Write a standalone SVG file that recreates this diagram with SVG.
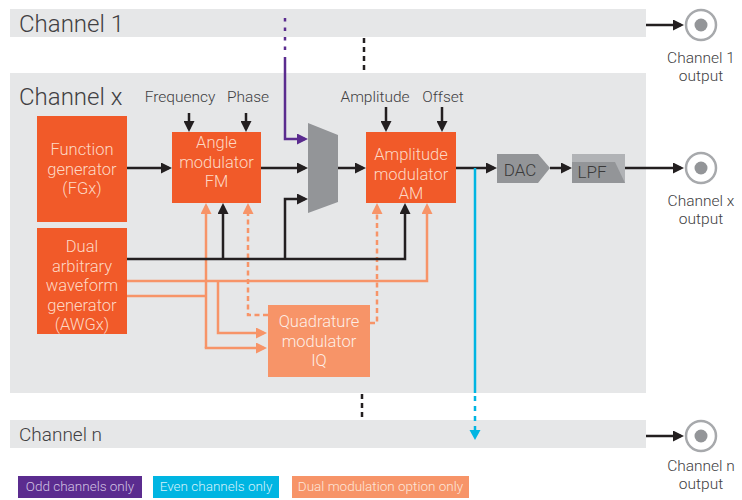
<svg xmlns="http://www.w3.org/2000/svg" width="742" height="500" viewBox="0 0 742 500">
<style>
text{font-family:Roboto,"Liberation Sans",sans-serif;font-weight:300}
.band{fill:#e6e7e8}
.lbl{fill:#414042;font-size:15.5px;text-anchor:middle}
.ch{fill:#414042;font-size:24px}
.out{fill:#414042;font-size:15.5px;text-anchor:middle}
.blk{fill:#f15a29}
.bt{fill:#fdd8c4;font-size:16.5px;text-anchor:middle}
.qt{fill:#fdeee6;font-size:16.5px;text-anchor:middle}
.gt{fill:#3a3a3a;font-size:17px;text-anchor:middle}
.k{stroke:#231f20;stroke-width:2.5;fill:none}
.o{stroke:#f79468;stroke-width:2.5;fill:none}
.od{stroke:#f79468;stroke-width:2.5;fill:none;stroke-dasharray:5 3.5}
.leg{font-size:13.5px}
</style>
<defs>
<marker id="ak" viewBox="0 0 11 11" refX="8" refY="5.5" markerWidth="11" markerHeight="11" markerUnits="userSpaceOnUse" orient="auto"><path d="M0,0L11,5.5L0,11z" fill="#231f20"/></marker>
<marker id="ao" viewBox="0 0 11 11" refX="8" refY="5.5" markerWidth="11" markerHeight="11" markerUnits="userSpaceOnUse" orient="auto"><path d="M0,0L11,5.5L0,11z" fill="#f79468"/></marker>
<marker id="ap" viewBox="0 0 11 11" refX="8" refY="5.5" markerWidth="11" markerHeight="11" markerUnits="userSpaceOnUse" orient="auto"><path d="M0,0L11,5.5L0,11z" fill="#5b2c8f"/></marker>
</defs>

<!-- channel bands -->
<g id="channel1"><rect class="band" x="10" y="9" width="636" height="28"/><text class="ch" x="19" y="32">Channel 1</text></g>
<g id="channelx"><rect class="band" x="10" y="73" width="636" height="320"/><text class="ch" x="19" y="105">Channel x</text></g>
<g id="channeln"><rect class="band" x="10" y="420" width="636" height="28"/><text class="ch" x="19" y="441" style="font-size:19px">Channel n</text></g>

<!-- control labels -->
<g id="labels">
<text class="lbl" x="180" y="102">Frequency</text>
<text class="lbl" x="248" y="102">Phase</text>
<text class="lbl" x="375" y="102">Amplitude</text>
<text class="lbl" x="443" y="102">Offset</text>
</g>

<g id="connectors">
<!-- dotted channel continuation -->
<line x1="364" y1="38" x2="364" y2="73" stroke="#231f20" stroke-width="2.5" stroke-dasharray="5 4"/>
<line x1="362" y1="394" x2="362" y2="420" stroke="#231f20" stroke-width="2.5" stroke-dasharray="5 4"/>
<!-- orange solid -->
<path class="o" d="M127,281H427V206" marker-end="url(#ao)"/>
<path class="o" d="M218,281V333H264" marker-end="url(#ao)"/>
<path class="o" d="M127,296H206"/>
<path class="o" d="M206,348V206" marker-end="url(#ao)"/>
<path class="o" d="M204.75,348H264" marker-end="url(#ao)"/>
<!-- orange dashed -->
<path class="od" d="M268,315H248V206" marker-end="url(#ao)"/>
<path class="od" d="M370,323H377V206" marker-end="url(#ao)"/>
<!-- black -->
<path class="k" d="M127,168H169" marker-end="url(#ak)"/>
<path class="k" d="M189,113V129" marker-end="url(#ak)"/>
<path class="k" d="M246,113V129" marker-end="url(#ak)"/>
<path class="k" d="M261,168H305" marker-end="url(#ak)"/>
<path class="k" d="M338,168H363" marker-end="url(#ak)"/>
<path class="k" d="M386,107V129" marker-end="url(#ak)"/>
<path class="k" d="M442,107V129" marker-end="url(#ak)"/>
<path class="k" d="M456,168H494" marker-end="url(#ak)"/>
<path class="k" d="M550,168H569" marker-end="url(#ak)"/>
<path class="k" d="M625,168H681" marker-end="url(#ak)"/>
<path class="k" d="M646,25H681" marker-end="url(#ak)"/>
<path class="k" d="M646,436H681" marker-end="url(#ak)"/>
<path class="k" d="M127,259H405V206" marker-end="url(#ak)"/>
<path class="k" d="M223,259V206" marker-end="url(#ak)"/>
<path class="k" d="M285,259V199H305" marker-end="url(#ak)"/>
<!-- purple -->
<line x1="285" y1="18" x2="285" y2="56" stroke="#5b2c8f" stroke-width="2.5" stroke-dasharray="3.5 6"/>
<path d="M285,57V139H305" stroke="#5b2c8f" stroke-width="2.5" fill="none" marker-end="url(#ap)"/>
<!-- cyan -->
<line x1="475" y1="168" x2="475" y2="393" stroke="#00b5e2" stroke-width="2.5"/>
<line x1="475" y1="396" x2="475" y2="430" stroke="#00b5e2" stroke-width="2.5" stroke-dasharray="5 5"/>
<path d="M469.5,430H480.5L475,440z" fill="#00b5e2"/>
</g>

<g id="fgx"><rect class="blk" x="37" y="116" width="90" height="106"/>
<text class="bt" x="82" y="155">Function<tspan x="82" dy="19.5">generator</tspan><tspan x="82" dy="19.5">(FGx)</tspan></text></g>

<g id="awgx"><rect class="blk" x="37" y="228" width="90" height="106"/>
<text class="bt" x="82" y="252">Dual<tspan x="82" dy="19.5">arbitrary</tspan><tspan x="82" dy="19.5">waveform</tspan><tspan x="82" dy="19.5">generator</tspan><tspan x="82" dy="19.5">(AWGx)</tspan></text></g>

<g id="fm"><rect class="blk" x="172" y="132" width="89" height="71"/>
<text class="bt" x="216.5" y="148">Angle<tspan x="216.5" dy="19.5">modulator</tspan><tspan x="216.5" dy="19.5">FM</tspan></text></g>

<g id="mux"><path d="M308,123L338,135V202L308,213z" fill="#939598"/></g>

<g id="am"><rect class="blk" x="366" y="132" width="90" height="71"/>
<text class="bt" x="411" y="160">Amplitude<tspan x="411" dy="19.5">modulator</tspan><tspan x="411" dy="19.5">AM</tspan></text></g>

<g id="dac"><path d="M497,154H538L550,168L538,183H497z" fill="#939598"/><text class="gt" x="520" y="176">DAC</text></g>

<g id="lpf"><rect x="572" y="154" width="53" height="29" fill="#b1b3b6"/><path d="M572,162H615L625,183H572z" fill="#939598"/><text class="gt" x="592" y="178">LPF</text></g>

<g id="iq"><rect x="268" y="305" width="102" height="72" fill="#f79468"/>
<text class="qt" x="319" y="327">Quadrature<tspan x="319" dy="19.5">modulator</tspan><tspan x="319" dy="19.5">IQ</tspan></text></g>

<g id="out1"><circle cx="701" cy="25" r="15" fill="#fff" stroke="#a7a9ac" stroke-width="2.5"/><circle cx="701" cy="25" r="6.5" fill="#939598"/>
<text class="out" x="701" y="63">Channel 1<tspan x="701" dy="18.3">output</tspan></text></g>
<g id="outx"><circle cx="701" cy="168" r="15" fill="#fff" stroke="#a7a9ac" stroke-width="2.5"/><circle cx="701" cy="168" r="6.5" fill="#939598"/>
<text class="out" x="701" y="206">Channel x<tspan x="701" dy="18.3">output</tspan></text></g>
<g id="outn"><circle cx="701" cy="436" r="15" fill="#fff" stroke="#a7a9ac" stroke-width="2.5"/><circle cx="701" cy="436" r="6.5" fill="#939598"/>
<text class="out" x="701" y="471">Channel n<tspan x="701" dy="18.3">output</tspan></text></g>

<g id="legend">
<rect x="18" y="476" width="124" height="22" fill="#5b2c8f"/><text class="leg" x="80" y="491" fill="#d2c3e3" text-anchor="middle">Odd channels only</text>
<rect x="153" y="476" width="126" height="22" fill="#00b5e2"/><text class="leg" x="216" y="491" fill="#d4f2fb" text-anchor="middle">Even channels only</text>
<rect x="292" y="476" width="177" height="22" fill="#f79468"/><text class="leg" x="380.5" y="491" fill="#fde6da" text-anchor="middle">Dual modulation option only</text>
</g>
</svg>
